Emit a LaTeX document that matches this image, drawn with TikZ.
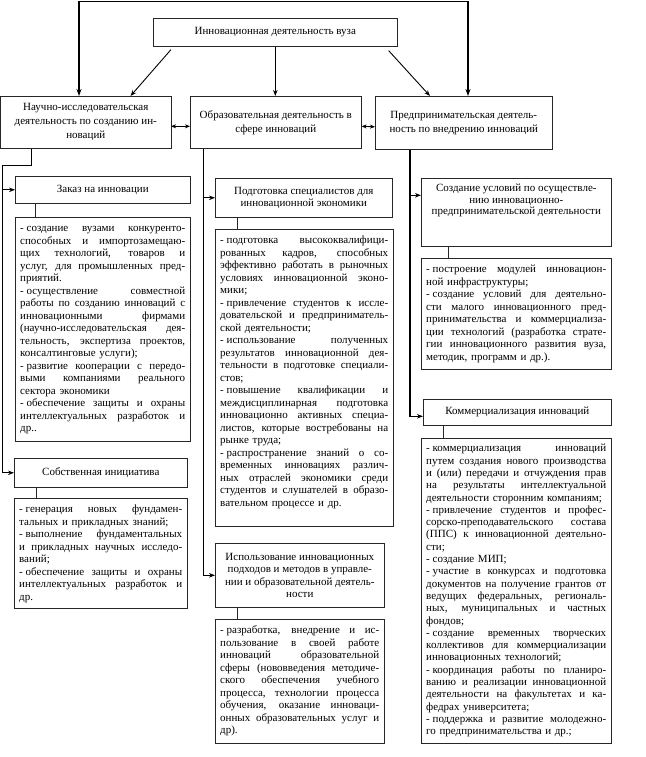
\documentclass[tikz,border=0pt]{standalone}
\usepackage{fontspec}
\setmainfont{Liberation Serif}
\usetikzlibrary{arrows.meta,calc}
\newcommand\jl[1]{\hbox to\hsize{\spaceskip=\fontdimen2\font plus 1fil\relax\strut#1}}
\newcommand\el[1]{\hbox to\hsize{\strut#1\hfil}}
\newcommand\dd{-\kern2.8pt}
\tikzset{
  box/.style={draw=black!85, line width=0.6pt, inner sep=0pt, anchor=north west},
  ttl/.style={box, align=center, font=\fontsize{11}{12.5}\selectfont},
  ttlrow/.style={ttl, font=\fontsize{11}{14}\selectfont},
  body/.style={inner sep=0pt, anchor=north west, font=\fontsize{11}{12.5}\selectfont},
  arr/.style={-{Stealth[length=6pt,width=4.5pt]}, line width=0.9pt},
  arrb/.style={line width=1.2pt},
  dbl/.style={{Stealth[length=5pt,width=4pt]}-{Stealth[length=5pt,width=4pt]}, line width=0.9pt},
  lnk/.style={draw=black!85, line width=0.6pt}
}
\begin{document}
\begin{tikzpicture}[x=1pt,y=-1pt]
\useasboundingbox (0,0) rectangle (645,757);
% top
\node[ttl, minimum width=244pt, minimum height=28pt] (root) at (153,18) {Инновационная деятельность вуза};
% row 1
\node[ttlrow, minimum width=170pt, minimum height=52pt] (nir) at (0.5,96) {Научно-исследовательская\\деятельность по созданию ин-\\новаций};
\node[ttlrow, minimum width=171pt, minimum height=52pt] (obr) at (190,96) {Образовательная деятельность в\\сфере инноваций};
\node[ttlrow, minimum width=177pt, minimum height=53pt] (pred) at (375,96) {Предпринимательская деятель-\\ность по внедрению инноваций};
% bracket on top
\coordinate (bl) at (79,1.5);
\coordinate (br) at (468,1.5);
\draw[arrb, {Stealth[length=7pt,width=5pt]}-{Stealth[length=7pt,width=5pt]}] (nir.north -| bl) -- (bl) -- (br) -- (pred.north -| br);
% arrows from root
\draw[arr] ([xshift=18pt,yshift=-3pt]root.south west) -- ([xshift=130pt]nir.north west);
\draw[arr] (root.south) -- (root.south |- obr.north);
\draw[arr] ([xshift=-9pt,yshift=-4pt]root.south east) -- ([xshift=55pt]pred.north west);
% double arrows
\draw[dbl] ([yshift=-4pt]nir.east) -- ([yshift=-4pt]obr.west);
\draw[dbl] ([yshift=-4pt]obr.east) -- ([yshift=-4pt]pred.west);

% left column
\node[ttl, minimum width=175pt, minimum height=27pt] (zak) at (15,176) {Заказ на инновации};
\node[box, minimum width=175pt, minimum height=224pt] (zakd) at (15,217) {};
\node[body, text width=165pt] (zakt) at ([xshift=5pt,yshift=-6pt]zakd.north west) {%
\jl{\dd создание вузами конкуренто-}
\jl{способных и импортозамещаю-}
\jl{щих технологий, товаров и}
\jl{услуг, для промышленных пред-}
\el{приятий.}
\jl{\dd осуществление совместной}
\jl{работы по созданию инноваций с}
\jl{инновационными фирмами}
\jl{(научно-исследовательская дея-}
\jl{тельность, экспертиза проектов,}
\el{консалтинговые услуги);}
\jl{\dd развитие кооперации с передо-}
\jl{выми компаниями реального}
\el{сектора экономики}
\jl{\dd обеспечение защиты и охраны}
\jl{интеллектуальных разработок и}
\el{др..}};
\node[ttl, minimum width=173pt, minimum height=29pt] (sob) at (14,458) {Собственная инициатива};
\node[box, minimum width=173pt, minimum height=110pt] (sobd) at (14,498) {};
\node[body, text width=163pt] (sobt) at ([xshift=5pt,yshift=-6pt]sobd.north west) {%
\jl{\dd генерация новых фундамен-}
\el{тальных и прикладных знаний;}
\jl{\dd выполнение фундаментальных}
\jl{и прикладных научных исследо-}
\el{ваний;}
\jl{\dd обеспечение защиты и охраны}
\jl{интеллектуальных разработок и}
\el{др.}};
\coordinate (lc) at (2,165);
\draw[arr, line width=0.8pt] ([xshift=31pt]nir.south west) |- (lc) |- (zak.west);
\draw[arr, line width=0.8pt] (lc) |- (sob.west);
\draw[lnk] ([xshift=20pt]zak.south west) -- ([xshift=20pt]zak.south west |- zakd.north);
\draw[lnk] ([xshift=22pt]sob.south west) -- ([xshift=22pt]sob.south west |- sobd.north);

% middle column
\node[ttl, minimum width=177pt, minimum height=39pt] (pod) at (215,178) {Подготовка специалистов для\\инновационной экономики};
\node[box, minimum width=178pt, minimum height=297pt] (podd) at (215,229) {};
\node[body, text width=168pt] (podt) at ([xshift=5pt,yshift=-6pt]podd.north west) {%
\jl{\dd подготовка высококвалифици-}
\jl{рованных кадров, способных}
\jl{эффективно работать в рыночных}
\jl{условиях инновационной эконо-}
\el{мики;}
\jl{\dd привлечение студентов к иссле-}
\jl{довательской и предприниматель-}
\el{ской деятельности;}
\jl{\dd использование полученных}
\jl{результатов инновационной дея-}
\jl{тельности в подготовке специали-}
\el{стов;}
\jl{\dd повышение квалификации и}
\jl{междисциплинарная подготовка}
\jl{инновационно активных специа-}
\jl{листов, которые востребованы на}
\el{рынке труда;}
\jl{\dd распространение знаний о со-}
\jl{временных инновациях различ-}
\jl{ных отраслей экономики среди}
\jl{студентов и слушателей в образо-}
\el{вательном процессе и др.}};
\node[ttl, minimum width=169pt, minimum height=64pt] (isp) at (215,543) {Использование инновационных\\подходов и методов в управле-\\нии и образовательной деятель-\\ности};
\node[box, minimum width=169pt, minimum height=124pt] (ispd) at (215,619) {};
\node[body, text width=159pt] (ispt) at ([xshift=5pt,yshift=-6pt]ispd.north west) {%
\jl{\dd разработка, внедрение и ис-}
\jl{пользование в своей работе}
\jl{инноваций образовательной}
\jl{сферы (нововведения методиче-}
\jl{ского обеспечения учебного}
\jl{процесса, технологии процесса}
\jl{обучения, оказание инноваци-}
\jl{онных образовательных услуг и}
\el{др).}};
\draw[arr, line width=0.7pt] ([xshift=13pt]obr.south west) |- (pod.west);
\draw[arr, line width=0.7pt] ([xshift=13pt]obr.south west) |- (isp.west);
\draw[lnk] ([xshift=22pt]pod.south west) -- ([xshift=22pt]pod.south west |- podd.north);
\draw[lnk] ([xshift=22pt]isp.south west) -- ([xshift=22pt]isp.south west |- ispd.north);

% right column
\node[box, minimum width=190pt, minimum height=68pt] (soz) at (421,178) {};
\node[inner sep=0pt, anchor=north, align=center, font=\fontsize{11}{11.5}\selectfont] (sozt) at ([yshift=-6pt]soz.north) {Создание условий по осуществле-\\нию инновационно-\\предпринимательской деятельности};
\node[box, minimum width=190pt, minimum height=111pt] (sozd) at (421,258) {};
\node[body, text width=180pt] (sozdt) at ([xshift=5pt,yshift=-6pt]sozd.north west) {%
\jl{\dd построение модулей инновацион-}
\el{ной инфраструктуры;}
\jl{\dd создание условий для деятельно-}
\jl{сти малого инновационного пред-}
\jl{принимательства и коммерциализа-}
\jl{ции технологий (разработка страте-}
\jl{гии инновационного развития вуза,}
\el{методик, программ и др.).}};
\node[ttl, minimum width=188pt, minimum height=26pt] (kom) at (423,399) {Коммерциализация инноваций};
\node[box, minimum width=190pt, minimum height=305pt] (komd) at (421,438) {};
\node[body, text width=180pt, font=\fontsize{11}{12.3}\selectfont] (komt) at ([xshift=5pt,yshift=-5pt]komd.north west) {%
\jl{\dd коммерциализация инноваций}
\jl{путем создания нового производства}
\jl{и (или) передачи и отчуждения прав}
\jl{на результаты интеллектуальной}
\el{деятельности сторонним компаниям;}
\jl{\dd привлечение студентов и профес-}
\jl{сорско-преподавательского состава}
\jl{(ППС) к инновационной деятельно-}
\el{сти;}
\el{\dd создание МИП;}
\jl{\dd участие в конкурсах и подготовка}
\jl{документов на получение грантов от}
\jl{ведущих федеральных, региональ-}
\jl{ных, муниципальных и частных}
\el{фондов;}
\jl{\dd создание временных творческих}
\jl{коллективов для коммерциализации}
\el{инновационных технологий;}
\jl{\dd координация работы по планиро-}
\jl{ванию и реализации инновационной}
\jl{деятельности на факультетах и ка-}
\el{федрах университета;}
\jl{\dd поддержка и развитие молодежно-}
\el{го предпринимательства и др.;}};
\draw[arr, line width=1.2pt] ([xshift=35pt]pred.south west) |- ([yshift=17pt]soz.west);
\draw[arr, line width=1.2pt] ([xshift=35pt]pred.south west) |- ([yshift=-4pt]kom.west);
\draw[lnk] ([xshift=27pt]soz.south west) -- ([xshift=27pt]soz.south west |- sozd.north);
\draw[lnk] ([xshift=20pt]kom.south west) -- ([xshift=20pt]kom.south west |- komd.north);
\end{tikzpicture}
\end{document}
